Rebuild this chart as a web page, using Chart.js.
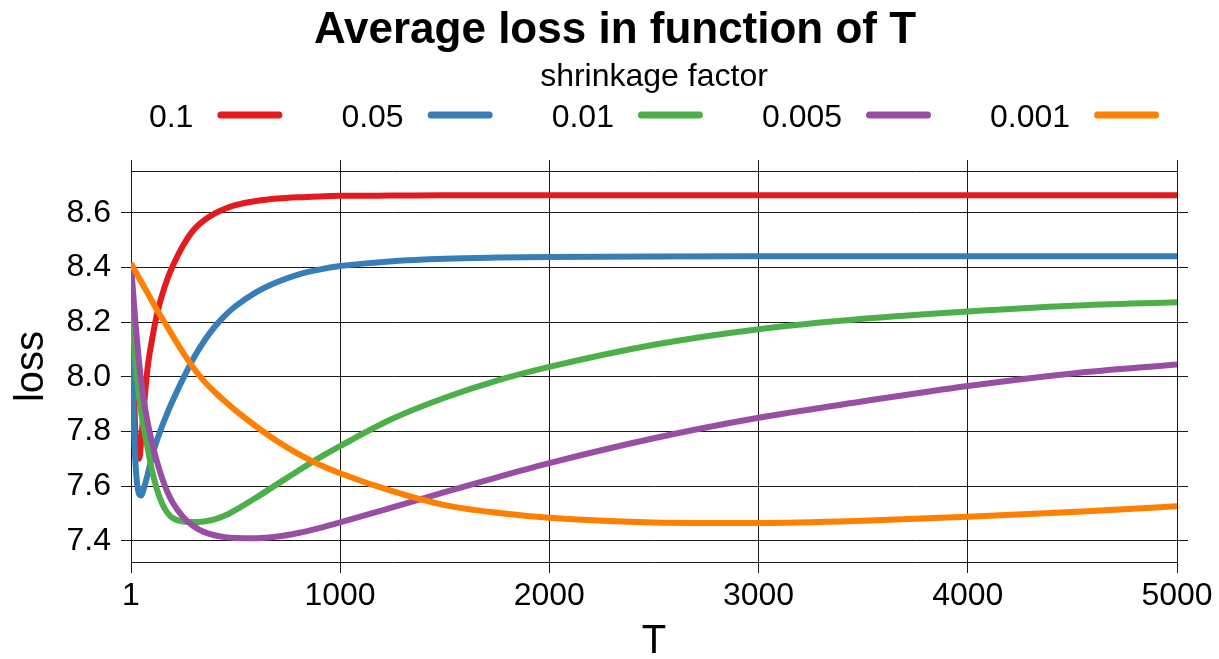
<!DOCTYPE html>
<html>
<head>
<meta charset="utf-8">
<script src="https://cdn.jsdelivr.net/npm/chart.js@4.4.1/dist/chart.umd.min.js"></script>
<style>
  body { margin: 0; background: #fff; }
</style>
</head>
<body>
<canvas id="myChart" width="1219" height="659"></canvas>
<script>
// data
const tValues = [1, 10, 20, 30, 40, 50, 60, 80, 100, 125, 150, 175, 200, 250, 300, 350, 400, 450, 500,
  600, 700, 800, 900, 1000, 1250, 1500, 1750, 2000, 2500, 3000, 3500, 4000, 4500, 5000];

const loss_0_1 = [8.41, 8.08, 7.83, 7.72, 7.70, 7.77, 7.865, 8.03, 8.13, 8.228, 8.30, 8.358, 8.404, 8.48, 8.537, 8.572, 8.597, 8.615, 8.628,
  8.643, 8.652, 8.657, 8.660, 8.662, 8.663, 8.664, 8.664, 8.664, 8.664, 8.664, 8.664, 8.664, 8.664, 8.664];
const loss_0_05 = [8.41, 7.95, 7.72, 7.61, 7.57, 7.565, 7.585, 7.64, 7.703, 7.767, 7.82, 7.868, 7.912, 7.993, 8.068, 8.13, 8.182, 8.224, 8.258,
  8.31, 8.347, 8.374, 8.392, 8.405, 8.423, 8.432, 8.436, 8.438, 8.44, 8.441, 8.441, 8.441, 8.441, 8.441];
const loss_0_01 = [8.41, 8.22, 8.08, 7.99, 7.925, 7.87, 7.822, 7.74, 7.662, 7.588, 7.535, 7.502, 7.483, 7.47, 7.468, 7.4705, 7.478, 7.492, 7.512,
  7.558, 7.607, 7.656, 7.703, 7.746, 7.846, 7.923, 7.986, 8.036, 8.117, 8.174, 8.212, 8.239, 8.26, 8.273];
const loss_0_005 = [8.41, 8.32, 8.22, 8.13, 8.05, 7.98, 7.925, 7.835, 7.763, 7.69, 7.628, 7.578, 7.54, 7.487, 7.453, 7.432, 7.42, 7.413, 7.41,
  7.409, 7.415, 7.428, 7.446, 7.467, 7.522, 7.578, 7.632, 7.684, 7.775, 7.85, 7.91, 7.966, 8.012, 8.045];
const loss_0_001 = [8.415, 8.403, 8.389, 8.375, 8.361, 8.348, 8.334, 8.307, 8.279, 8.245, 8.213, 8.182, 8.15, 8.088, 8.032, 7.984, 7.945, 7.91, 7.877,
  7.818, 7.764, 7.718, 7.679, 7.647, 7.581, 7.53, 7.502, 7.484, 7.467, 7.465, 7.473, 7.488, 7.505, 7.526];

const seriesLabels = ['0.1', '0.05', '0.01', '0.005', '0.001'];
const seriesColors = ['#E41A1C', '#377EB8', '#4DAF4A', '#984EA3', '#FF7F00'];
const seriesValues = [loss_0_1, loss_0_05, loss_0_01, loss_0_005, loss_0_001];

const xTicks = [1, 1000, 2000, 3000, 4000, 5000];
const yTicks = [7.4, 7.6, 7.8, 8.0, 8.2, 8.4, 8.6];

const FONT = '"Liberation Sans", Arial, sans-serif';
Chart.defaults.font.family = FONT;
Chart.defaults.color = '#000';

// title + legend drawn above the panel (label first, line after it)
const topText = {
  id: 'topText',
  afterDraw(chart) {
    const ctx = chart.ctx;
    const area = chart.chartArea;
    const mid = (area.left + area.right) / 2;
    ctx.save();
    ctx.fillStyle = '#000';
    ctx.textBaseline = 'alphabetic';
    ctx.textAlign = 'center';
    ctx.font = 'bold 44px ' + FONT;
    ctx.fillText('Average loss in function of T', 615, 43);
    ctx.font = '32px ' + FONT;
    ctx.fillText('shrinkage factor', mid, 86);

    const gapText = 24, lineLen = 65, gapItem = 59;
    const items = chart.data.datasets.map(ds => ({
      label: ds.label, color: ds.borderColor, w: ctx.measureText(ds.label).width
    }));
    let total = 0;
    items.forEach((it, i) => { total += it.w + gapText + lineLen + (i < items.length - 1 ? gapItem : 0); });
    let x = mid - total / 2;
    ctx.textAlign = 'left';
    items.forEach(it => {
      ctx.fillStyle = '#000';
      ctx.fillText(it.label, x, 127);
      x += it.w + gapText;
      ctx.strokeStyle = it.color;
      ctx.lineWidth = 7;
      ctx.lineCap = 'round';
      ctx.beginPath();
      ctx.moveTo(x + 3.5, 115);
      ctx.lineTo(x + lineLen - 3.5, 115);
      ctx.stroke();
      x += lineLen + gapItem;
    });
    ctx.restore();
  }
};

const gridStyle = { color: '#1a1a1a', lineWidth: 1 };
const setXTicks = s => { s.ticks = xTicks.map(v => ({ value: v })); };
const setYTicks = s => { s.ticks = yTicks.map(v => ({ value: v })); };

var ctx = document.getElementById('myChart').getContext('2d');
var myChart = new Chart(ctx, {
  type: 'line',
  data: {
    datasets: seriesLabels.map((lab, i) => ({
      label: lab,
      data: tValues.map((t, j) => ({ x: t, y: seriesValues[i][j] })),
      borderColor: seriesColors[i],
      backgroundColor: seriesColors[i],
      borderWidth: 6,
      pointRadius: 0,
      cubicInterpolationMode: 'monotone',
      order: seriesLabels.length - i
    }))
  },
  options: {
    responsive: false,
    animation: false,
    devicePixelRatio: 1,
    layout: { padding: { top: 160, right: 31, bottom: 0, left: 0 } },
    plugins: { legend: { display: false }, tooltip: { enabled: false } },
    scales: {
      x: {
        type: 'linear', position: 'bottom', min: 1, max: 5000,
        afterBuildTicks: setXTicks,
        afterFit: s => { s.height = 97; },
        grid: { ...gridStyle, tickLength: 11 },
        border: { display: true, color: '#1a1a1a', width: 1 },
        ticks: { font: { size: 32 }, padding: 4, maxRotation: 0, autoSkip: false, callback: v => String(v) },
        title: { display: true, text: 'T', font: { size: 40 }, padding: { top: 0, bottom: -7 } }
      },
      x2: {
        type: 'linear', position: 'top', min: 1, max: 5000,
        afterBuildTicks: setXTicks,
        afterFit: s => { s.height = 11; },
        grid: { ...gridStyle, tickLength: 11, drawOnChartArea: false },
        border: { display: true, color: '#1a1a1a', width: 1 },
        ticks: { display: false }
      },
      y: {
        type: 'linear', position: 'left', min: 7.322, max: 8.753,
        afterBuildTicks: setYTicks,
        afterFit: s => { s.width = 131; },
        grid: { ...gridStyle, tickLength: 10 },
        border: { display: true, color: '#1a1a1a', width: 1 },
        ticks: { font: { size: 32 }, padding: 10, callback: v => v.toFixed(1) },
        title: { display: true, text: 'loss', font: { size: 40 }, padding: { top: 8, bottom: 0 } }
      },
      y2: {
        type: 'linear', position: 'right', min: 7.322, max: 8.753,
        afterBuildTicks: setYTicks,
        afterFit: s => { s.width = 11; },
        grid: { ...gridStyle, tickLength: 11, drawOnChartArea: false },
        border: { display: true, color: '#1a1a1a', width: 1 },
        ticks: { display: false }
      }
    }
  },
  plugins: [topText]
});
</script>
</body>
</html>
